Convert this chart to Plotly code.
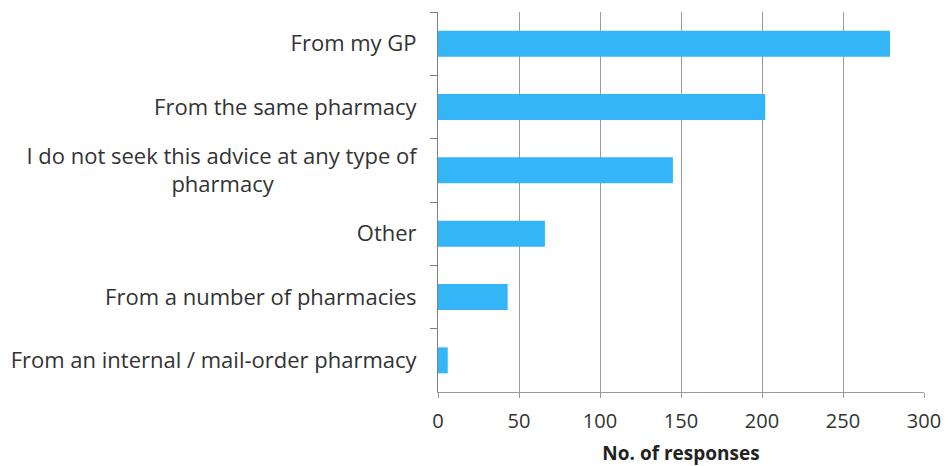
import plotly.graph_objects as go

categories = [
    "From my GP",
    "From the same pharmacy",
    "I do not seek this advice at any type of<br>pharmacy" + "\u00a0" * 25,
    "Other",
    "From a number of pharmacies",
    "From an internal / mail-order pharmacy",
]
values = [279, 202, 145, 66, 43, 6]
x_ticks = [0, 50, 100, 150, 200, 250, 300]

fig = go.Figure(go.Bar(
    x=values, y=categories, orientation="h",
    marker=dict(color="#33b5f8", line=dict(width=0)),
    width=0.41,
))

# page body has an 8px default margin, so the figure is sized to fit the window
font_family = "Open Sans, Liberation Sans, sans-serif"
fig.update_layout(
    width=942, height=458,
    margin=dict(l=430, r=26, t=4, b=74, autoexpand=False),
    plot_bgcolor="white", paper_bgcolor="white",
    font=dict(family=font_family, size=22, color="#333333"),
    showlegend=False,
)
fig.update_xaxes(
    range=[0, 300], tickvals=x_ticks, ticktext=[str(t) for t in x_ticks],
    tickfont=dict(size=20), ticklabelstandoff=6,
    showgrid=True, gridcolor="#9a9a9a", gridwidth=1,
    showline=True, linecolor="#9a9a9a", linewidth=1,
    ticks="outside", ticklen=5, tickcolor="#9a9a9a",
    zeroline=False, automargin=False,
    title=dict(text="<b>No. of responses</b>", font=dict(size=19, color="#222222"), standoff=13),
)
fig.update_yaxes(
    autorange="reversed", type="category",
    showline=True, linecolor="#7f7f7f", linewidth=1,
    ticks="outside", ticklen=7, tickcolor="#7f7f7f", tickson="boundaries",
    showgrid=False, ticklabelstandoff=16, automargin=False,
)
fig.write_html("out.html")
